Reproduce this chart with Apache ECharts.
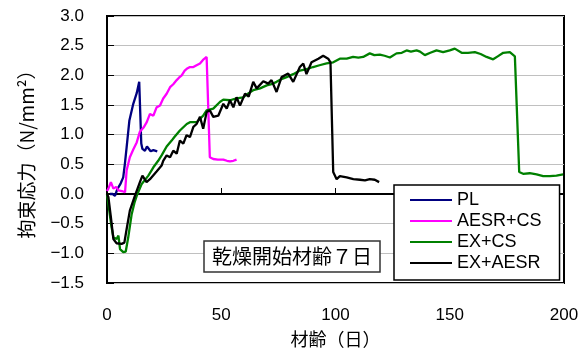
<!DOCTYPE html>
<html>
<head>
<meta charset="utf-8">
<script src="https://cdn.jsdelivr.net/npm/echarts@6/dist/echarts.min.js"></script>
<style>html,body{margin:0;padding:0;background:#fff;}#c{width:583px;height:358px;}</style>
</head>
<body>
<div id="c"></div>
<script>
const seriesNames = ['PL', 'AESR+CS', 'EX+CS', 'EX+AESR'];
const xTicks = [0, 50, 100, 150, 200];
const yTicks = [-1.5, -1.0, -0.5, 0.0, 0.5, 1.0, 1.5, 2.0, 2.5, 3.0];

const pl = [[1.3,0.0],[2.5,0.0],[3.5,-0.03],[4.5,0.08],[6,0.18],[7.1,0.28],[7.8,0.5],[8.6,0.79],[9.8,1.24],[11.5,1.52],[13,1.7],[14.1,1.89],[15.0,0.85],[15.5,0.76],[16.6,0.73],[17.5,0.8],[18.1,0.78],[19.1,0.72],[20.3,0.74],[22,0.72]];

const aesrCs = [[0,0.05],[0.6,0.09],[1.7,0.2],[2.8,0.09],[4,0.12],[5,0.06],[6.5,0.05],[7.9,0.03],[8.6,0.4],[10,0.62],[11.5,0.75],[13,0.87],[14.4,1.05],[16,1.12],[17.4,1.21],[18.8,1.35],[20.3,1.32],[21.7,1.46],[23.2,1.49],[24.6,1.61],[26.1,1.69],[27.6,1.80],[29,1.85],[30.5,1.92],[31.5,1.96],[32.7,2.0],[34,2.08],[34.9,2.11],[36.3,2.14],[37.8,2.14],[39.2,2.17],[40.7,2.20],[42,2.26],[43.6,2.31],[44.3,2.31],[45,0.62],[46.5,0.59],[48.5,0.58],[50.9,0.58],[52.5,0.56],[53.8,0.55],[55.3,0.56],[56.7,0.58]];

const exCs = [[0,0],[0.6,0],[2,-0.56],[2.8,-0.73],[4.2,-0.76],[5,-0.70],[5.7,-0.93],[7.1,-0.98],[8.2,-0.97],[9.3,-0.73],[10.8,-0.34],[12,-0.15],[13,-0.03],[15.2,0.17],[18.1,0.31],[20.3,0.45],[22.4,0.56],[23.9,0.65],[26.1,0.80],[28.3,0.90],[29.5,0.96],[31.9,1.07],[34.9,1.18],[36.3,1.21],[39.2,1.21],[42.1,1.32],[43.6,1.41],[46.5,1.44],[49.4,1.55],[50.9,1.59],[53.8,1.58],[56.7,1.61],[59.6,1.63],[62,1.70],[64,1.75],[67,1.78],[69.9,1.83],[72,1.85],[74.2,1.89],[76,1.93],[78.6,1.97],[81.5,2.02],[84.4,2.08],[87,2.10],[90.2,2.14],[93,2.17],[96.1,2.20],[99,2.22],[101.9,2.28],[104.9,2.28],[107.7,2.31],[110,2.30],[112.1,2.31],[115,2.37],[117,2.34],[119.4,2.35],[121.5,2.33],[123.8,2.30],[126.7,2.37],[129,2.38],[131.1,2.42],[133,2.40],[135.5,2.42],[137,2.40],[139.1,2.34],[141.5,2.38],[144.2,2.42],[147.1,2.39],[150,2.42],[152.2,2.45],[155.2,2.38],[158,2.38],[161,2.39],[163.5,2.36],[166.1,2.31],[169,2.27],[171,2.32],[173.4,2.38],[176.3,2.39],[178.5,2.32],[179.2,2.34],[180.4,0.37],[182.1,0.34],[185,0.35],[188,0.33],[190.9,0.30],[193.8,0.30],[196.7,0.31],[199.6,0.33]];

const exAesr = [[0,0],[0.6,-0.05],[1.7,-0.39],[2.8,-0.76],[4.2,-0.83],[6.4,-0.84],[7.6,-0.82],[8.6,-0.59],[10,-0.28],[12.2,-0.03],[14.4,0.2],[15.5,0.31],[17.3,0.2],[18.8,0.25],[21.7,0.38],[23.9,0.48],[24.6,0.56],[26.1,0.65],[27.6,0.62],[29,0.73],[30.5,0.68],[31.9,0.90],[33.4,0.85],[34.8,0.99],[36.3,0.96],[37.8,1.13],[39.2,1.18],[40.7,1.30],[42.1,1.10],[43.6,1.38],[45,1.41],[46.5,1.30],[48.7,1.32],[50.9,1.52],[52.4,1.44],[53.8,1.58],[55.3,1.46],[56.7,1.63],[58.2,1.49],[60.4,1.69],[62,1.64],[64,1.89],[65.5,1.78],[68.4,1.90],[70.6,1.86],[72,1.92],[74.2,1.72],[76.4,1.97],[79.3,2.03],[81.5,1.89],[84.4,2.14],[85.9,2.20],[87.3,2.02],[89.5,2.22],[91,2.25],[92.5,2.28],[94.6,2.33],[96.8,2.28],[97.8,2.22],[99,0.37],[100.5,0.25],[101.9,0.30],[104.9,0.28],[107.8,0.25],[110.7,0.24],[112.9,0.23],[115,0.25],[117.2,0.24],[119.1,0.20]];

const seriesData = [pl, aesrCs, exCs, exAesr];
const colors = ['#000080', '#ff00ff', '#008000', '#000000'];

const FONT = '"Liberation Sans", Arial, "Noto Sans CJK JP", sans-serif';
const CJK = '"Noto Sans CJK JP", sans-serif';

const chart = echarts.init(document.getElementById('c'));
chart.setOption({
  animation: false,
  backgroundColor: '#fff',
  textStyle: { fontFamily: FONT },
  grid: { left: 107, right: 19, top: 16, bottom: 75, show: true, borderColor: '#000', borderWidth: 2, backgroundColor: 'transparent' },
  title: {
    text: '乾燥開始材齢７日',
    left: 204, top: 241,
    padding: [4, 8, 4, 8],
    borderColor: '#333', borderWidth: 1.5, backgroundColor: '#fff',
    textStyle: { fontFamily: CJK, fontSize: 20, fontWeight: 'normal', color: '#000', lineHeight: 23 }
  },
  legend: {
    data: seriesNames,
    orient: 'vertical',
    left: 394, top: 185,
    padding: [6, 18, 8, 16],
    itemGap: 3,
    itemWidth: 42, itemHeight: 2,
    icon: 'rect',
    borderColor: '#000', borderWidth: 1.5, borderRadius: 0, backgroundColor: '#fff',
    textStyle: { fontFamily: FONT, fontSize: 18, color: '#000', lineHeight: 18 }
  },
  xAxis: {
    type: 'value', min: xTicks[0], max: xTicks[xTicks.length - 1], interval: 50,
    name: '材齢（日）', nameLocation: 'middle', nameGap: 47,
    nameTextStyle: { fontFamily: CJK, fontSize: 18, color: '#000' },
    axisLine: { show: true, lineStyle: { color: '#000', width: 2 } },
    axisTick: { show: true, inside: true, length: 6, lineStyle: { color: '#000', width: 1 } },
    axisLabel: { fontSize: 17, color: '#000', margin: 24, fontFamily: FONT },
    splitLine: { show: false }
  },
  yAxis: {
    type: 'value', min: yTicks[0], max: yTicks[yTicks.length - 1], interval: 0.5,
    name: '拘束応力（N/mm²）', nameLocation: 'middle', nameGap: 71, nameRotate: 90,
    nameTextStyle: { fontFamily: CJK, fontSize: 19, color: '#000' },
    axisLine: { show: true, lineStyle: { color: '#000', width: 2 } },
    axisTick: { show: true, inside: true, length: 7, lineStyle: { color: '#000', width: 1 } },
    axisLabel: { fontSize: 17, color: '#000', margin: 23, fontFamily: FONT,
      formatter: v => v.toFixed(1).replace('-', '\u2212') },
    splitLine: { show: true, lineStyle: { color: '#c0c0c0', width: 1 } }
  },
  series: seriesNames.map((n, i) => ({
    name: n, type: 'line', data: seriesData[i], symbol: 'none',
    lineStyle: { color: colors[i], width: 2.3 }, itemStyle: { color: colors[i] },
    z: 2 + i
  }))
});
</script>
</body>
</html>
